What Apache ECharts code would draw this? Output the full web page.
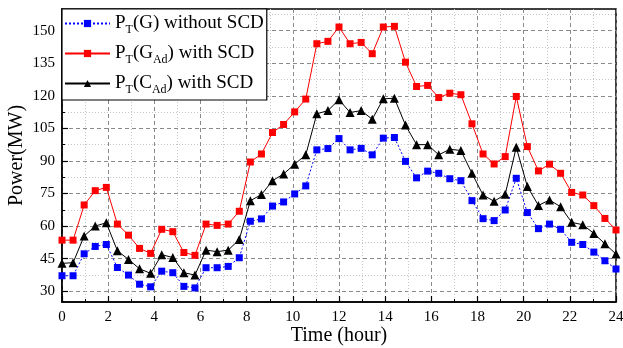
<!DOCTYPE html>
<html><head><meta charset="utf-8">
<script src="https://cdn.jsdelivr.net/npm/echarts@6/dist/echarts.min.js"></script>
<style>html,body{margin:0;padding:0;background:#fff}#c{width:623px;height:348px}</style>
</head><body><div id="c"></div>
<script>
const hours = [0,0.48,0.96,1.44,1.92,2.4,2.88,3.36,3.84,4.32,4.8,5.28,5.76,6.24,6.72,7.2,7.68,8.16,8.64,9.12,9.6,10.08,10.56,11.04,11.52,12,12.48,12.96,13.44,13.92,14.4,14.88,15.36,15.84,16.32,16.8,17.28,17.76,18.24,18.72,19.2,19.68,20.16,20.64,21.12,21.6,22.08,22.56,23.04,23.52,24];
const blueG = [37.1,37.1,47.2,50.6,51.5,40.9,37.4,33.2,32.0,39.2,38.5,32.2,31.5,40.8,40.8,41.4,45.4,62.2,63.3,69.2,71.1,74.8,78.5,95.1,95.7,100.3,95.1,95.8,92.8,100.5,100.8,89.8,82.2,85.3,84.3,81.8,80.9,71.7,63.4,62.5,67.4,82.0,66.2,58.8,60.9,58.5,52.5,51.5,48.0,44.0,40.2];
const redGAd = [53.5,53.5,69.7,76.3,77.8,60.9,55.8,49.7,47.4,58.5,57.4,47.8,46.5,60.9,60.3,60.9,66.8,89.5,93.2,103.1,106.8,112.6,118.5,144.0,145.1,151.7,144.0,144.6,139.4,151.7,152.0,135.5,124.3,124.8,119.2,121.2,120.5,107.1,93.2,88.6,92.0,119.7,96.6,85.4,88.5,84.3,75.5,74.3,69.4,63.5,58.2];
const blackCAd = [42.8,43.1,55.4,60.0,61.5,48.6,44.6,40.3,38.2,46.8,45.5,38.5,37.4,48.9,48.2,48.9,53.8,71.7,74.5,80.9,84.0,88.5,92.8,111.7,113.2,118.2,112.3,113.2,109.2,118.6,118.9,106.5,97.5,97.5,92.8,95.4,94.8,84.3,74.3,71.4,74.6,96.3,78.2,69.5,72.0,68.9,61.7,60.6,56.6,51.8,47.1];
const yLabels = [30,45,60,75,90,105,120,135,150];
const yMinor = [37.5,52.5,67.5,82.5,97.5,112.5,127.5,142.5,157.5];
const seriesNames = ['PT(G) without SCD','PT(GAd) with SCD','PT(CAd) with SCD'];
const legendRich = {
  'PT(G) without SCD': '{n|P}{s|T}{n|(G) without SCD}',
  'PT(GAd) with SCD': '{n|P}{s|T}{n|(G}{s|Ad}{n|) with SCD}',
  'PT(CAd) with SCD': '{n|P}{s|T}{n|(C}{s|Ad}{n|) with SCD}'
};
const pair = arr => hours.map((h,i)=>[h,arr[i]]);
const font = 'Liberation Serif';
const chart = echarts.init(document.getElementById('c'), null, {renderer:'canvas'});
chart.setOption({
  animation:false,
  backgroundColor:'#fff',
  grid:{left:62,right:7,top:9,bottom:46,show:true,borderColor:'#000',borderWidth:1.5,backgroundColor:'transparent',outerBoundsMode:'none',containLabel:false},
  legend:{
    orient:'vertical',left:62,top:9,
    data:seriesNames,
    backgroundColor:'#fff',borderColor:'#000',borderWidth:1.2,
    padding:[2,3,4,2],
    itemWidth:45,itemHeight:9,itemGap:5,
    formatter:n=>legendRich[n],
    textStyle:{color:'#000',fontFamily:font,
      rich:{
        n:{fontFamily:font,fontSize:19,color:'#000',lineHeight:20},
        s:{fontFamily:font,fontSize:12,color:'#000',lineHeight:20,padding:[13,0,0,0]}
      }}
  },
  xAxis:{
    type:'value',min:0,max:24,interval:2,
    name:'Time (hour)',nameLocation:'middle',nameGap:24,nameMoveOverlap:false,
    nameTextStyle:{fontFamily:font,fontSize:20,color:'#000'},
    axisLine:{show:true,lineStyle:{color:'#000',width:1.5}},
    axisTick:{show:true,inside:true,length:6,lineStyle:{color:'#000',width:1.2}},
    minorTick:{show:true,splitNumber:2,length:3,lineStyle:{color:'#000',width:1}},
    axisLabel:{fontFamily:font,fontSize:15,color:'#000',margin:8},
    splitLine:{show:true,lineStyle:{color:'#8a8a8a',type:[4,3],width:1}},
    minorSplitLine:{show:true,lineStyle:{color:'#c4c4c4',type:[1,2],width:1}}
  },
  yAxis:[{
    type:'value',min:25,max:160,
    name:'Power(MW)',nameLocation:'middle',nameGap:35,nameMoveOverlap:false,
    nameTextStyle:{fontFamily:font,fontSize:20,color:'#000'},
    axisLine:{show:true,lineStyle:{color:'#000',width:1.5}},
    axisTick:{show:true,inside:true,length:6,customValues:yLabels,lineStyle:{color:'#000',width:1.2}},
    axisLabel:{fontFamily:font,fontSize:15,color:'#000',margin:7,customValues:yLabels},
    splitLine:{show:true,lineStyle:{color:'#8a8a8a',type:[4,3],width:1}}
  },{
    type:'value',min:25,max:160,position:'left',
    axisLine:{show:false},
    axisTick:{show:true,inside:true,length:3,customValues:yMinor,lineStyle:{color:'#000',width:1}},
    axisLabel:{show:false,customValues:yMinor},
    splitLine:{show:true,lineStyle:{color:'#c4c4c4',type:[1,2],width:1}}
  }],
  series:[
    {name:seriesNames[0],type:'line',data:pair(blueG),symbol:'rect',symbolSize:7,
     lineStyle:{color:'#0000ff',width:1,type:[2,2]},itemStyle:{color:'#0000ff'},z:3},
    {name:seriesNames[1],type:'line',data:pair(redGAd),symbol:'rect',symbolSize:7,
     lineStyle:{color:'#ff0000',width:1},itemStyle:{color:'#ff0000'},z:3},
    {name:seriesNames[2],type:'line',data:pair(blackCAd),symbol:'triangle',symbolSize:9,
     lineStyle:{color:'#000',width:1},itemStyle:{color:'#000'},z:3}
  ]
});
</script></body></html>
